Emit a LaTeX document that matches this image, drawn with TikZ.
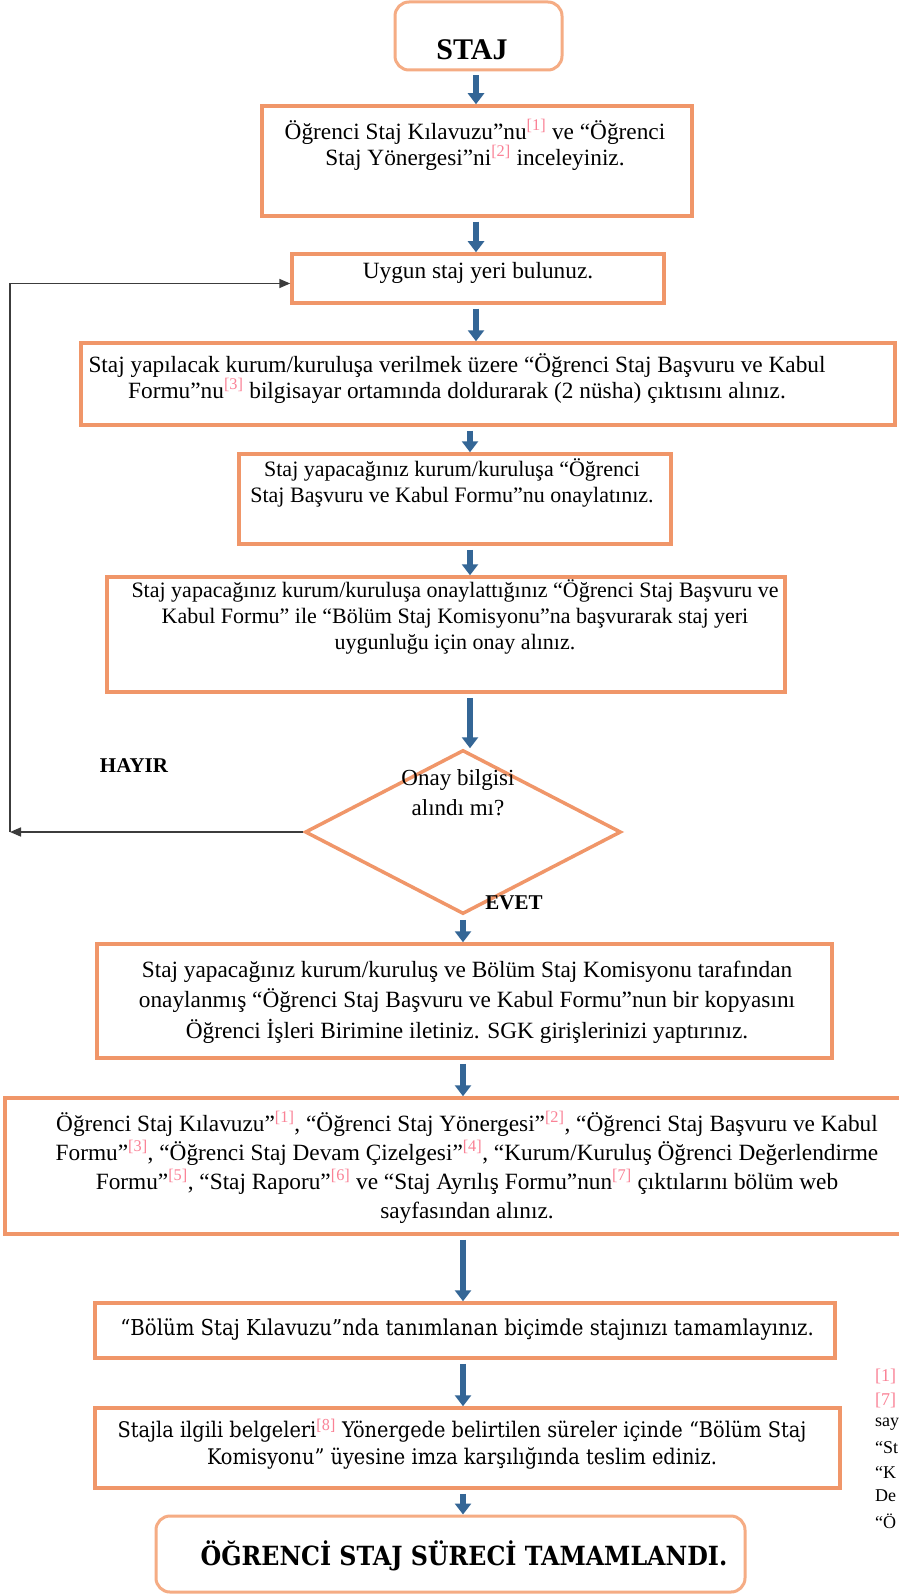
\documentclass[tikz,border=0pt]{standalone}
\usepackage{fontspec}
\setmainfont{Liberation Serif}
\newfontfamily\cambria{DejaVu Serif Condensed}
\usetikzlibrary{arrows.meta,shapes.geometric}
\definecolor{boxorange}{RGB}{240,150,105}
\definecolor{roundorange}{RGB}{245,172,132}
\definecolor{arrowblue}{RGB}{52,102,150}
\definecolor{fnpink}{RGB}{250,130,150}
\definecolor{linegray}{RGB}{60,60,60}
\newcommand{\fnref}[1]{\textsuperscript{\color{fnpink}[#1]}}
\begin{document}
\begin{tikzpicture}[x=1pt,y=-1pt,
  box/.style={draw=boxorange, line width=3.5pt, rectangle, inner sep=0pt},
  rbox/.style={draw=roundorange, line width=3pt, rectangle, rounded corners=14pt, inner sep=0pt},
  txt/.style={align=center, inner sep=0pt, font=\fontsize{23.3}{26}\selectfont},
  flow/.style={draw=arrowblue, line width=6pt, -{Triangle[width=16pt,length=11pt]}, shorten <=4pt},
  back/.style={draw=linegray, line width=1.6pt, -{Triangle[width=9pt,length=11pt]}},
  fnote/.style={anchor=west, inner sep=0pt, font=\fontsize{18}{20}\selectfont}]
\useasboundingbox (0,0) rectangle (898,1594);
\fill[white] (0,0) rectangle (898,1594);
% axes for arrows
\coordinate (axA) at (476,0);
\coordinate (axB) at (470,0);
\coordinate (axC) at (463,0);
% boxes
\node[rbox, minimum width=167pt, minimum height=68pt] (b1) at (478.5,36) {};
\node[box, minimum width=430pt, minimum height=110pt] (b2) at (477,161) {};
\node[box, minimum width=372pt, minimum height=49pt] (b3) at (478,278.5) {};
\node[box, minimum width=814pt, minimum height=82pt] (b4) at (488,384) {};
\node[box, minimum width=432pt, minimum height=90pt] (b5) at (455,499) {};
\node[box, minimum width=678pt, minimum height=115pt] (b6) at (446,634.5) {};
\node[diamond, draw=boxorange, line width=3.5pt, minimum width=316pt, minimum height=164pt, aspect=1.93, inner sep=0pt] (d) at (463,832) {};
\node[box, minimum width=735pt, minimum height=114pt] (b7) at (464.5,1001) {};
\node[box, minimum width=900pt, minimum height=136pt] (b8) at (455,1166) {};
\node[box, minimum width=740pt, minimum height=55pt] (b9) at (465,1330.5) {};
\node[box, minimum width=745pt, minimum height=80pt] (b10) at (467.5,1448) {};
\node[rbox, minimum width=589pt, minimum height=76pt] (b11) at (450.5,1554) {};
% texts
\node[inner sep=0pt, font=\bfseries\fontsize{30}{32}\selectfont] (t1) at (472,50) {STAJ};
\node[txt] (t2) at (475,145) {Öğrenci Staj Kılavuzu”nu\fnref{1} ve “Öğrenci\\Staj Yönergesi”ni\fnref{2} inceleyiniz.};
\node[txt] (t3) at (478,273) {Uygun staj yeri bulunuz.};
\node[txt] (t4) at (457,379) {Staj yapılacak kurum/kuruluşa verilmek üzere “Öğrenci Staj Başvuru ve Kabul\\Formu”nu\fnref{3} bilgisayar ortamında doldurarak (2 nüsha) çıktısını alınız.};
\node[txt, font=\fontsize{22}{26}\selectfont] (t5) at (452,483) {Staj yapacağınız kurum/kuruluşa “Öğrenci\\Staj Başvuru ve Kabul Formu”nu onaylatınız.};
\node[txt, font=\fontsize{22}{26}\selectfont] (t6) at (455,617) {Staj yapacağınız kurum/kuruluşa onaylattığınız “Öğrenci Staj Başvuru ve\\Kabul Formu” ile “Bölüm Staj Komisyonu”na başvurarak staj yeri\\uygunluğu için onay alınız.};
\node[txt, font=\fontsize{23}{30}\selectfont] (td) at (458,793) {Onay bilgisi\\alındı mı?};
\node[inner sep=0pt, font=\bfseries\fontsize{21}{24}\selectfont] (hayir) at (134,766) {HAYIR};
\node[inner sep=0pt, font=\bfseries\fontsize{21}{24}\selectfont] (evet) at (514,903) {EVET};
\node[txt, font=\fontsize{23.3}{30.5}\selectfont] (t7) at (467,1002) {Staj yapacağınız kurum/kuruluş ve Bölüm Staj Komisyonu tarafından\\onaylanmış “Öğrenci Staj Başvuru ve Kabul Formu”nun bir kopyasını\\Öğrenci İşleri Birimine iletiniz. SGK girişlerinizi yaptırınız.};
\node[txt, font=\fontsize{23.3}{29}\selectfont] (t8) at (467,1167) {Öğrenci Staj Kılavuzu”\fnref{1}, “Öğrenci Staj Yönergesi”\fnref{2}, “Öğrenci Staj Başvuru ve Kabul\\Formu”\fnref{3}, “Öğrenci Staj Devam Çizelgesi”\fnref{4}, “Kurum/Kuruluş Öğrenci Değerlendirme\\Formu”\fnref{5}, “Staj Raporu”\fnref{6} ve “Staj Ayrılış Formu”nun\fnref{7} çıktılarını bölüm web\\sayfasından alınız.};
\node[txt, font=\cambria\fontsize{21.9}{26}\selectfont] (t9) at (467,1330) {“Bölüm Staj Kılavuzu”nda tanımlanan biçimde stajınızı tamamlayınız.};
\node[txt, font=\cambria\fontsize{21.5}{27}\selectfont] (t10) at (462,1444) {Stajla ilgili belgeleri\fnref{8} Yönergede belirtilen süreler içinde “Bölüm Staj\\Komisyonu” üyesine imza karşılığında teslim ediniz.};
\node[inner sep=0pt, font=\cambria\bfseries\fontsize{26.4}{30}\selectfont] (t11) at (464,1556) {ÖĞRENCİ STAJ SÜRECİ TAMAMLANDI.};
% footnote fragments at right edge
\node[fnote, text=fnpink] (f1) at (875,1376) {[1]};
\node[fnote, text=fnpink] (f2) at (875,1400) {[7]};
\node[fnote] (f3) at (875,1424) {say};
\node[fnote] (f4) at (875,1448) {“St};
\node[fnote] (f5) at (875,1472) {“K};
\node[fnote] (f6) at (875,1496) {De};
\node[fnote] (f7) at (875,1521) {“Ö};
% flow arrows
\draw[flow] (b1.south -| axA) -- (b2.north -| axA);
\draw[flow] (b2.south -| axA) -- (b3.north -| axA);
\draw[flow] (b3.south -| axA) -- (b4.north -| axA);
\draw[flow] (b4.south -| axB) -- (b5.north -| axB);
\draw[flow] (b5.south -| axB) -- (b6.north -| axB);
\draw[flow] (b6.south -| axB) -- (d.north -| axB);
\draw[flow] (d.south -| axC) -- (b7.north -| axC);
\draw[flow] (b7.south -| axC) -- (b8.north -| axC);
\draw[flow] (b8.south -| axC) -- (b9.north -| axC);
\draw[flow] (b9.south -| axC) -- (b10.north -| axC);
\draw[flow] (b10.south -| axC) -- (b11.north -| axC);
% loop back
\coordinate (corner) at (10,832);
\draw[back] (d.west) -- (corner);
\draw[back] (corner) |- ([yshift=-5pt]b3.west);
\end{tikzpicture}
\end{document}
